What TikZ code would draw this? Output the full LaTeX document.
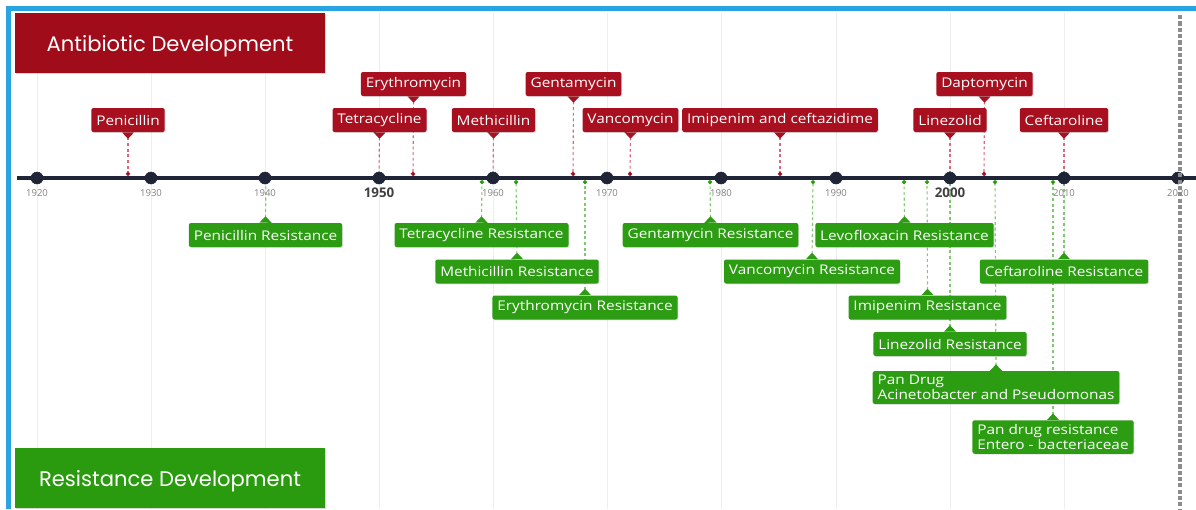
\documentclass[tikz,border=0pt]{standalone}
\usepackage{fontspec}
\setmainfont{Open Sans}
\newfontfamily\headfont{Poppins}
\newfontfamily\labelfont{Open Sans}[FakeStretch=1.15]
\usetikzlibrary{arrows.meta,shadows,backgrounds}

\definecolor{headred}{HTML}{A00C19}
\definecolor{drugred}{HTML}{A81020}
\definecolor{drugdash}{HTML}{D8687A}
\definecolor{headgreen}{HTML}{2A9A0E}
\definecolor{resgreen}{HTML}{2C9C12}
\definecolor{resdash}{HTML}{80C870}
\definecolor{frameblue}{HTML}{29A3E1}
\definecolor{axisnavy}{HTML}{1F2536}

\tikzset{
  headbox/.style={text=white, font=\headfont\fontsize{15}{18}\selectfont,
    minimum width=7.75cm, minimum height=1.5cm, text height=12pt, text depth=0pt,
    drop shadow={shadow xshift=1pt, shadow yshift=-1pt, opacity=0.3}},
  drug/.style={fill=drugred, text=white, font=\labelfont\fontsize{9.5}{10.5}\selectfont,
    rounded corners=1.5pt, minimum height=0.6cm, inner xsep=3.5pt, inner ysep=3pt,
    align=left, drop shadow={shadow xshift=0.6pt, shadow yshift=-0.6pt, opacity=0.25}},
  res/.style={drug, fill=resgreen},
  drugline/.style={drugdash, line width=0.8pt, dash pattern=on 2pt off 2pt,
    {Triangle[reversed, width=0.3cm, length=0.16cm, color=drugred]}-{Circle[length=3pt, color=drugred]}},
  resline/.style={resdash, line width=0.8pt, dash pattern=on 2pt off 2pt,
    {Triangle[reversed, width=0.3cm, length=0.16cm, color=resgreen]}-{Circle[length=3pt, color=resgreen]}},
  year/.style={below=4.5pt, text=gray, font=\fontsize{6.8}{8}\selectfont},
  bigyear/.style={below=3.5pt, text=black!75, font=\bfseries\fontsize{9.5}{11}\selectfont},
}

\begin{document}
\begin{tikzpicture}[x=0.025cm, y=-0.025cm]
  \useasboundingbox (0,0) rectangle (1196,509);

  % faint decade lines
  \begin{scope}[on background layer]
    \foreach \gx in {37,151,265,379,493,607,721,836,950,1064}
      \draw[black!7, line width=0.5pt] (\gx,13) -- (\gx,509);
  \end{scope}

  % frame
  \fill[frameblue] (6,6) rectangle (1196,11);
  \fill[frameblue] (6,6) rectangle (11,509);

  % headings
  \node[headbox, fill=headred] (antihead) at (170,43) {Antibiotic Development};
  \node[headbox, fill=headgreen] (reshead) at (170,478) {Resistance Development};

  % timeline
  \draw[axisnavy, line width=2.8pt] (17,178) -- (1196,178);
  \filldraw[axisnavy] (37,178) circle (0.15cm) node[year] {1920};
  \filldraw[axisnavy] (151,178) circle (0.15cm) node[year] {1930};
  \filldraw[axisnavy] (265,178) circle (0.15cm) node[year] {1940};
  \filldraw[axisnavy] (379,178) circle (0.15cm) node[bigyear] {1950};
  \filldraw[axisnavy] (493,178) circle (0.15cm) node[year] {1960};
  \filldraw[axisnavy] (607,178) circle (0.15cm) node[year] {1970};
  \filldraw[axisnavy] (721,178) circle (0.15cm) node[year] {1980};
  \filldraw[axisnavy] (836,178) circle (0.15cm) node[year] {1990};
  \filldraw[axisnavy] (950,178) circle (0.15cm) node[bigyear] {2000};
  \filldraw[axisnavy] (1064,178) circle (0.15cm) node[year] {2010};
  \filldraw[axisnavy] (1178,178) circle (0.15cm) node[year] {2020};

  % points on the timeline
  \coordinate (pen-t) at (128,176);
  \coordinate (tet-t) at (379,176);
  \coordinate (ery-t) at (413,176);
  \coordinate (met-t) at (493,176);
  \coordinate (gen-t) at (573,176);
  \coordinate (van-t) at (630,176);
  \coordinate (imi-t) at (780,176);
  \coordinate (lin-t) at (950,176);
  \coordinate (dap-t) at (984,176);
  \coordinate (cef-t) at (1064,176);

  \coordinate (penr-t) at (266,180);
  \coordinate (tetr-t) at (482,180);
  \coordinate (metr-t) at (516,180);
  \coordinate (eryr-t) at (585,180);
  \coordinate (genr-t) at (710,180);
  \coordinate (vanr-t) at (813,180);
  \coordinate (levr-t) at (904,180);
  \coordinate (imir-t) at (927,180);
  \coordinate (linr-t) at (950,180);
  \coordinate (panr-t) at (995,180);
  \coordinate (entr-t) at (1053,180);
  \coordinate (cefr-t) at (1064,180);

  % antibiotics
  \node[drug] (pen) at (128,120) {Penicillin};
  \node[drug] (tet) at (379.5,120) {Tetracycline};
  \node[drug] (ery) at (413.5,84) {Erythromycin};
  \node[drug] (met) at (493.5,120) {Methicillin};
  \node[drug] (gen) at (573.5,84) {Gentamycin};
  \node[drug] (van) at (630.5,120) {Vancomycin};
  \node[drug] (imi) at (780,120) {Imipenim and ceftazidime};
  \node[drug] (lin) at (950,120) {Linezolid};
  \node[drug] (dap) at (984.5,84) {Daptomycin};
  \node[drug] (cef) at (1064,120) {Ceftaroline};

  % resistance
  \node[res] (penr) at (265.5,235) {Penicillin Resistance};
  \node[res] (tetr) at (481.5,235) {Tetracycline Resistance};
  \node[res] (metr) at (517,271.5) {Methicillin Resistance};
  \node[res] (eryr) at (585,307.5) {Erythromycin Resistance};
  \node[res] (genr) at (710.5,235) {Gentamycin Resistance};
  \node[res] (vanr) at (812,271.5) {Vancomycin Resistance};
  \node[res] (levr) at (904.5,235) {Levofloxacin Resistance};
  \node[res] (imir) at (927.5,307.5) {Imipenim Resistance};
  \node[res] (linr) at (950,344) {Linezolid Resistance};
  \node[res] (cefr) at (1064,271.5) {Ceftaroline Resistance};
  \node[res] (panr) at (996,387.5) {Pan Drug\\Acinetobacter and Pseudomonas};
  \node[res] (entr) at (1053,437) {Pan drug resistance\\Entero - bacteriaceae};

  % connectors
  \begin{scope}[on background layer]
    \draw[drugline] (pen.south) -- (pen-t);
    \draw[drugline] (tet.south) -- (tet-t);
    \draw[drugline] (ery.south) -- (ery-t);
    \draw[drugline] (met.south) -- (met-t);
    \draw[drugline] (gen.south) -- (gen-t);
    \draw[drugline] (van.south) -- (van-t);
    \draw[drugline] (imi.south) -- (imi-t);
    \draw[drugline] (lin.south) -- (lin-t);
    \draw[drugline] (dap.south) -- (dap-t);
    \draw[drugline] (cef.south) -- (cef-t);

    \draw[resline] (penr.north) -- (penr-t);
    \draw[resline] (tetr.north) -- (tetr-t);
    \draw[resline] (metr.north) -- (metr-t);
    \draw[resline] (eryr.north) -- (eryr-t);
    \draw[resline] (genr.north) -- (genr-t);
    \draw[resline] (vanr.north) -- (vanr-t);
    \draw[resline] (levr.north) -- (levr-t);
    \draw[resline] (imir.north) -- (imir-t);
    \draw[resline] (linr.north) -- (linr-t);
    \draw[resline] (panr.north) -- (panr-t);
    \draw[resline] (entr.north) -- (entr-t);
    \draw[resline] (cefr.north) -- (cefr-t);
  \end{scope}

  % today marker
  \draw[black!45, line width=2.4pt, dash pattern=on 3pt off 1.5pt] (1180,15) -- (1180,509);
\end{tikzpicture}
\end{document}
